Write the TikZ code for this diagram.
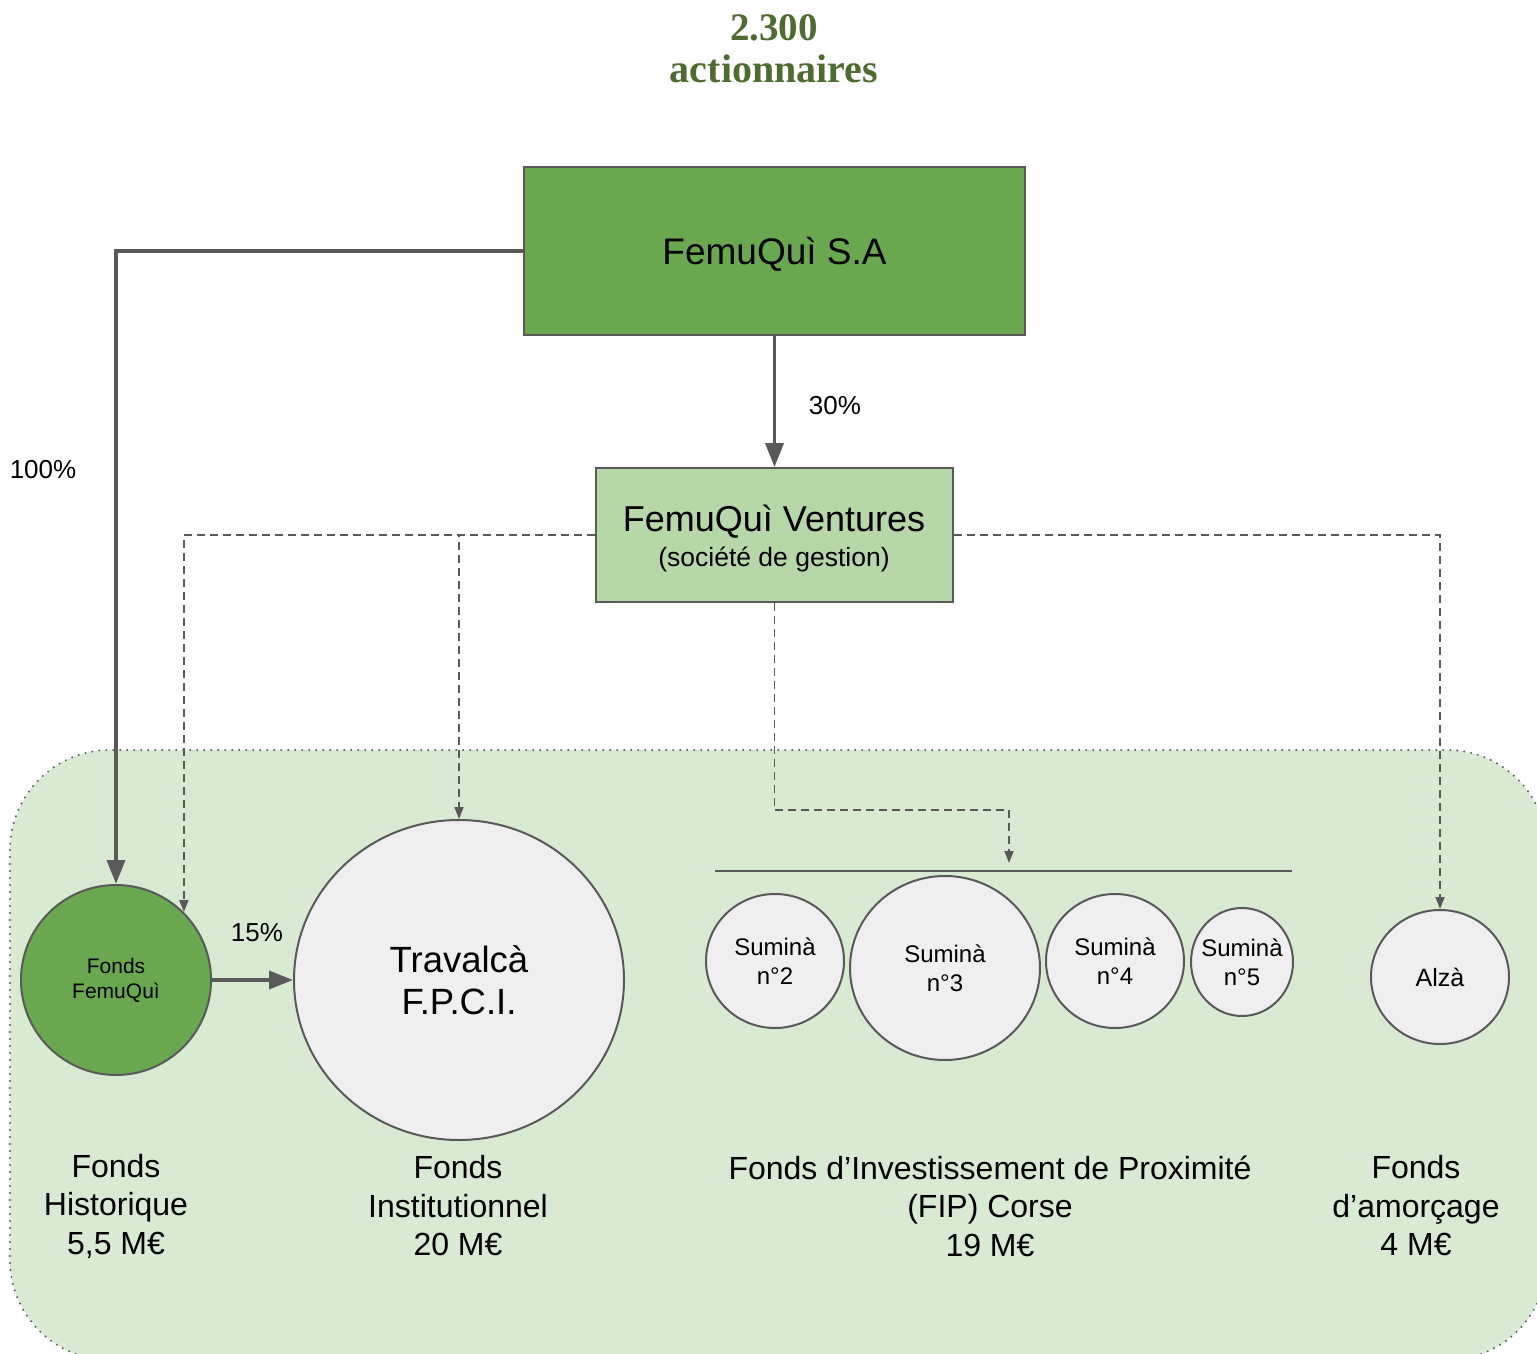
\documentclass[tikz,border=0pt]{standalone}
\usepackage{fontspec}
\setmainfont{Liberation Sans}
\newfontfamily\titlefont{Liberation Serif}
\usetikzlibrary{shapes.geometric,arrows.meta}
\definecolor{gdark}{HTML}{6AA84F}
\definecolor{glight}{HTML}{B6D7A8}
\definecolor{gbg}{HTML}{D9EAD3}
\definecolor{edgec}{HTML}{595959}
\definecolor{cgray}{HTML}{EFEFEF}
\definecolor{ttl}{HTML}{4E6B30}
\begin{document}
\begin{tikzpicture}[x=1pt,y=-1pt,
  box/.style={draw=edgec,line width=1.8pt,inner sep=0pt,align=center},
  fund/.style={ellipse,draw=edgec,line width=2pt,fill=cgray,inner sep=0pt,align=center},
  own/.style={draw=edgec,line width=3.5pt,-{Triangle[length=24pt,width=18pt]}},
  mgmt/.style={draw=edgec,line width=1.8pt,dash pattern=on 8pt off 5pt,-{Triangle[length=12pt,width=9pt]}},
  lbl/.style={font=\fontsize{26}{30}\selectfont},
  bottomlbl/.style={align=center,font=\fontsize{32}{38.5}\selectfont},
  sumi/.style={font=\fontsize{24}{29}\selectfont}
]
\useasboundingbox (0,0) rectangle (1537,1354);
\fill[white] (0,0) rectangle (1537,1354);
\begin{scope}
  \clip (0,0) rectangle (1537,1354);
  \draw[fill=gbg,draw=edgec,line width=2.2pt,line cap=round,dash pattern=on 0pt off 7pt,rounded corners=100pt]
    (10,750) rectangle (1547,1360);
\end{scope}

% title
\node[text=ttl,font=\titlefont\bfseries\fontsize{39}{44}\selectfont] (t1) at (774,28) {2.300};
\node[text=ttl,font=\titlefont\bfseries\fontsize{40}{46}\selectfont] (t2) at (774,69) {actionnaires};

% boxes
\node[box,fill=gdark,minimum width=501pt,minimum height=168pt] (sa) at (774.5,251) {};
\node[font=\fontsize{37}{44}\selectfont] (sat) at (774.5,254) {FemuQuì S.A};
\node[box,fill=glight,minimum width=357pt,minimum height=134pt] (vent) at (774.5,535) {};
\node[font=\fontsize{36}{40}\selectfont] (ventt) at (774,522) {FemuQuì Ventures};
\node[font=\fontsize{26.5}{30}\selectfont] (vents) at (774,559.5) {(société de gestion)};

% funds
\node[fund,fill=gdark,minimum width=190pt,minimum height=190pt,font=\fontsize{21}{25}\selectfont] (fhist) at (116,980) {Fonds\\FemuQuì};
\node[fund,minimum width=330pt,minimum height=320pt,font=\fontsize{36.5}{42}\selectfont] (trav) at (459,980) {Travalcà\\F.P.C.I.};
\node[fund,minimum width=138pt,minimum height=134pt,sumi] (s2) at (775,961) {Suminà\\n°2};
\node[fund,minimum width=190pt,minimum height=184pt,sumi] (s3) at (945,968) {Suminà\\n°3};
\node[fund,minimum width=138pt,minimum height=134pt,sumi] (s4) at (1115,961) {Suminà\\n°4};
\node[fund,minimum width=102pt,minimum height=108pt,inner xsep=-14pt,inner ysep=-6pt,sumi] (s5) at (1242,962) {Suminà\\n°5};
\node[fund,minimum width=138pt,minimum height=134pt,font=\fontsize{25}{30}\selectfont] (alza) at (1440,977) {Alzà};

% FIP bar
\coordinate (fipL) at (715,870.5);
\coordinate (fipR) at (1292,870.5);
\coordinate (fipbend) at (1009,810);
\coordinate (fiptip) at (1009,863);
\draw[edgec,line width=2pt] (fipL) -- (fipR);

% ownership connectors
\draw[own] (sa.west) -| (fhist.north);
\draw[own] (sa.south) -- (vent.north);
\draw[own] (fhist.east) -- (trav.west);

% management connectors
\draw[mgmt] (vent.west) -| (fhist.45);
\draw[mgmt] (vent.west) -| (trav.north);
\draw[mgmt] (vent.east) -| (alza.north);
\draw[mgmt] (vent.south) |- (fipbend) -- (fiptip);

% percentages
\node[lbl] (p30) at (835,406) {30\%};
\node[lbl] (p100) at (43,470) {100\%};
\node[lbl] (p15) at (257,933) {15\%};

% bottom labels
\node[bottomlbl] (l1) at (116,1206) {Fonds\\Historique\\5,5 M€};
\node[bottomlbl] (l2) at (458,1206) {Fonds\\Institutionnel\\20 M€};
\node[bottomlbl] (l3) at (990,1206) {Fonds d’Investissement de Proximité\\(FIP) Corse\\19 M€};
\node[bottomlbl] (l4) at (1416,1206) {Fonds\\d’amorçage\\4 M€};
\end{tikzpicture}
\end{document}
